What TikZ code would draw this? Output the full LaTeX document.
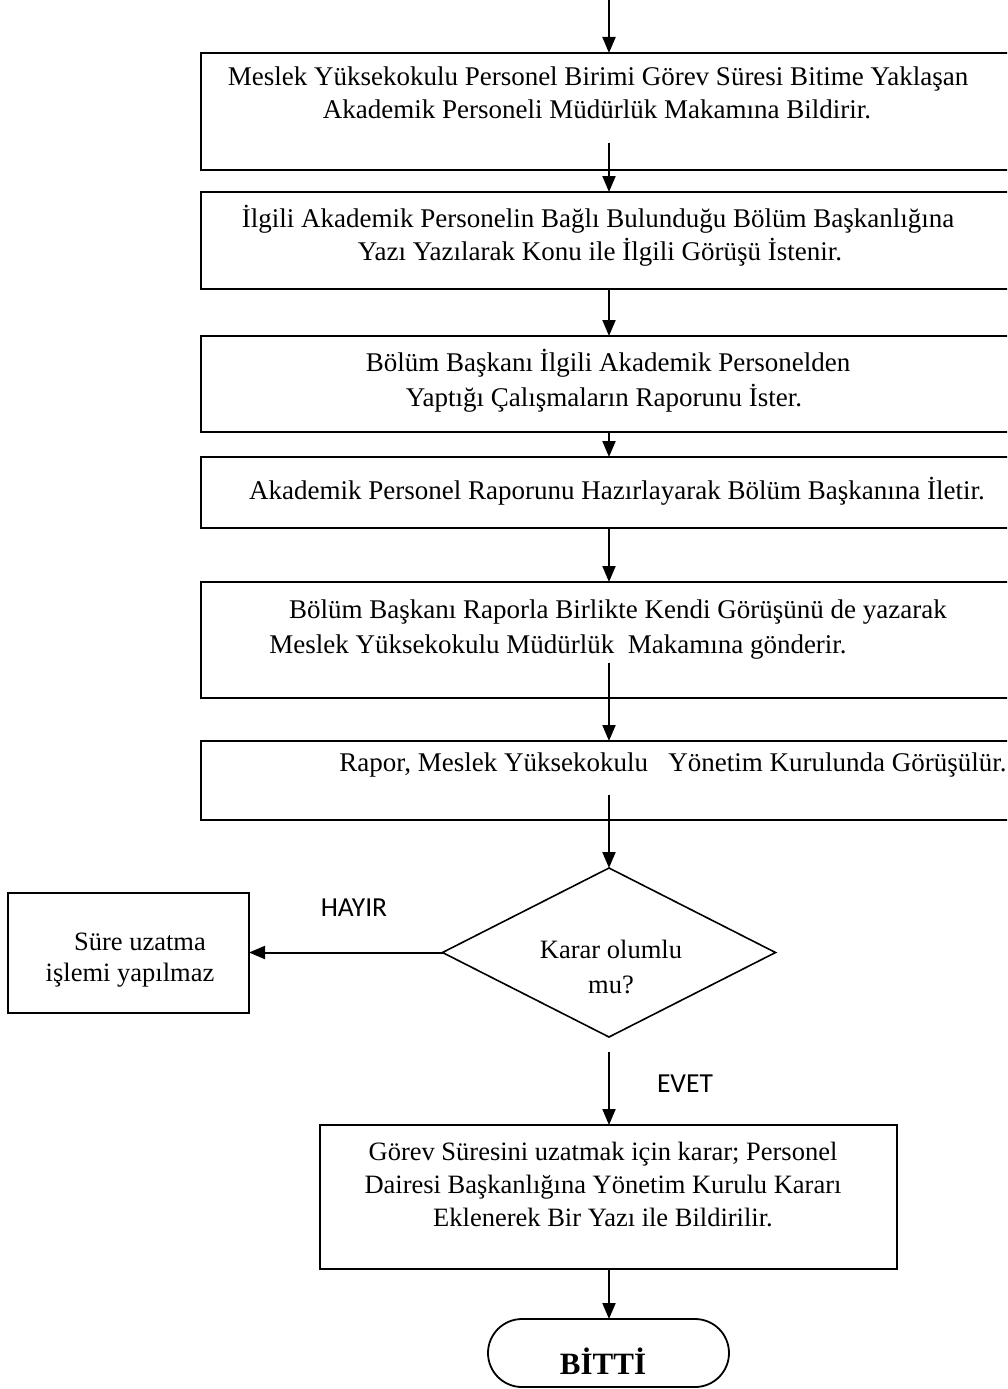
\documentclass[tikz,border=0pt]{standalone}
\usepackage{fontspec}
\setmainfont{Liberation Serif}
\newfontfamily\lblfont{Carlito}
\usetikzlibrary{arrows.meta,shapes.geometric}
\tikzset{
  procbox/.style={draw, line width=2.6pt, rectangle, inner sep=0pt, outer sep=0pt, anchor=north west},
  thinbox/.style={draw, line width=2pt, rectangle, inner sep=0pt, outer sep=0pt, anchor=north west},
  arr/.style={line width=2pt, -{Triangle[length=16pt,width=13pt]}},
  boxtxt/.style={font=\fontsize{27}{33}\selectfont, anchor=base, inner sep=0pt},
  smalltxt/.style={font=\fontsize{26.5}{33}\selectfont, anchor=base, inner sep=0pt},
  lbl/.style={font=\lblfont\fontsize{27.5}{33}\selectfont, inner sep=0pt},
}
\begin{document}
\begin{tikzpicture}[x=1pt,y=-1pt]
\clip (0,0) rectangle (1007,1389);
\fill[white] (0,0) rectangle (1007,1389);
% boxes
\node[procbox, minimum width=840pt, minimum height=117pt] (b1) at (201,53) {};
\node[procbox, minimum width=840pt, minimum height=97pt] (b2) at (201,192) {};
\node[procbox, minimum width=840pt, minimum height=96pt] (b3) at (201,336) {};
\node[procbox, minimum width=840pt, minimum height=71pt] (b4) at (201,457) {};
\node[procbox, minimum width=840pt, minimum height=116pt] (b5) at (201,582) {};
\node[procbox, minimum width=840pt, minimum height=79pt] (b6) at (201,741) {};
\node[draw, diamond, line width=1.6pt, minimum width=333pt, minimum height=169pt, inner sep=0pt, outer sep=0pt] (d) at (609,952.5) {};
\node[thinbox, minimum width=241pt, minimum height=120pt] (no) at (8,893) {};
\node[procbox, line width=2.4pt, minimum width=577pt, minimum height=144pt] (b7) at (320,1125) {};
\node[draw, rectangle, rounded corners=34pt, line width=1.8pt, minimum width=241pt, minimum height=68pt, inner sep=0pt, outer sep=0pt, anchor=north west] (end) at (488,1319) {};
% texts
\node[boxtxt] (t1a) at (598,85) {Meslek Yüksekokulu Personel Birimi Görev Süresi Bitime Yaklaşan};
\node[boxtxt] (t1b) at (597,118) {Akademik Personeli Müdürlük Makamına Bildirir.};
\node[boxtxt] (t2a) at (598,227) {İlgili Akademik Personelin Bağlı Bulunduğu Bölüm Başkanlığına};
\node[boxtxt] (t2b) at (600,260) {Yazı Yazılarak Konu ile İlgili Görüşü İstenir.};
\node[boxtxt] (t3a) at (608,371) {Bölüm Başkanı İlgili Akademik Personelden};
\node[boxtxt] (t3b) at (604,406) {Yaptığı Çalışmaların Raporunu İster.};
\node[boxtxt] (t4a) at (617,499) {Akademik Personel Raporunu Hazırlayarak Bölüm Başkanına İletir.};
\node[boxtxt] (t5a) at (618,618) {Bölüm Başkanı Raporla Birlikte Kendi Görüşünü de yazarak};
\node[boxtxt] (t5b) at (558,653) {Meslek Yüksekokulu Müdürlük\ \ Makamına gönderir.};
\node[boxtxt] (t6a) at (673,771) {Rapor, Meslek Yüksekokulu\ \ \ Yönetim Kurulunda Görüşülür.};
\node[smalltxt] (dt1) at (611,958) {Karar olumlu};
\node[smalltxt] (dt2) at (611,993) {mu?};
\node[smalltxt] (nt1) at (140,950) {Süre uzatma};
\node[smalltxt] (nt2) at (130,981) {işlemi yapılmaz};
\node[smalltxt] (t7a) at (603,1160) {Görev Süresini uzatmak için karar; Personel};
\node[smalltxt] (t7b) at (603,1193) {Dairesi Başkanlığına Yönetim Kurulu Kararı};
\node[smalltxt] (t7c) at (603,1226) {Eklenerek Bir Yazı ile Bildirilir.};
\node[font=\bfseries\fontsize{31}{36}\selectfont, anchor=base, inner sep=0pt] (et) at (603,1374) {BİTTİ};
\node[lbl] (hayir) at (354,908) {HAYIR};
\node[lbl] (evet) at (685,1084) {EVET};
% connectors
\coordinate (top) at (609,0);
\coordinate (s1) at (609,143);
\coordinate (s5) at (609,663);
\coordinate (s6) at (609,795);
\coordinate (s7) at (609,1052);
\draw[arr] (top) -- (top |- b1.north);
\draw[arr] (s1) -- (s1 |- b2.north);
\draw[arr] (top |- b2.south) -- (top |- b3.north);
\draw[arr] (top |- b3.south) -- (top |- b4.north);
\draw[arr] (top |- b4.south) -- (top |- b5.north);
\draw[arr] (s5) -- (s5 |- b6.north);
\draw[arr] (s6) -- (d.north);
\draw[arr] (d.west) -- (no.east |- d.west);
\draw[arr] (s7) -- (s7 |- b7.north);
\draw[arr] (top |- b7.south) -- (top |- end.north);
\end{tikzpicture}
\end{document}
